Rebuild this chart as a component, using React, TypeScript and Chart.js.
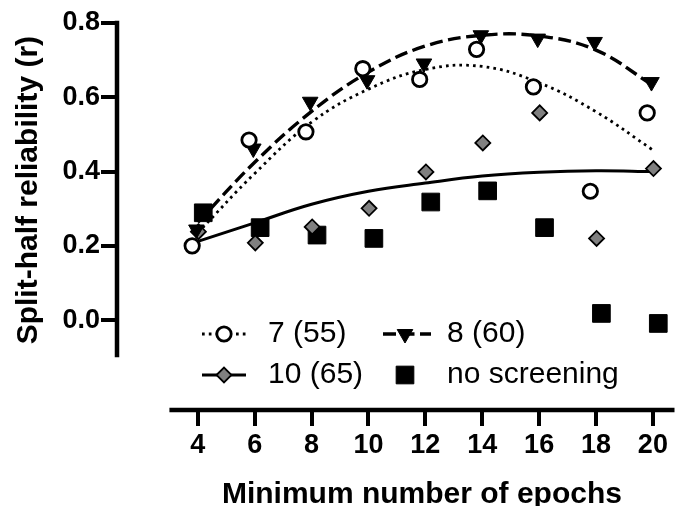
import React, { useEffect, useRef } from "react";
import { Chart, registerables } from "chart.js";
import { drawPoint } from "chart.js/helpers";

Chart.register(...registerables);

// ---------- data ----------
const epochs = [4, 6, 8, 10, 12, 14, 16, 18, 20];

// observed split-half reliability per screening criterion
const r7 = [0.2, 0.485, 0.507, 0.677, 0.648, 0.729, 0.628, 0.347, 0.558];
const r8 = [0.244, 0.462, 0.588, 0.646, 0.691, 0.767, 0.758, 0.749, 0.641];
const r10 = [0.238, 0.208, 0.251, 0.301, 0.399, 0.477, 0.558, 0.22, 0.408];
const rNone = [0.289, 0.249, 0.229, 0.22, 0.318, 0.348, 0.249, 0.018, -0.009];

// horizontal nudge of each marker series (in epochs)
const shift7 = -0.2;
const shift8 = -0.05;
const shift10 = 0.02;
const shiftNone = 0.19;

// fitted curves read at each epoch value
const fit7 = [0.235, 0.395, 0.533, 0.622, 0.675, 0.683, 0.639, 0.561, 0.458];
const fit8 = [0.263, 0.425, 0.562, 0.668, 0.738, 0.767, 0.765, 0.727, 0.632];
const fit10 = [0.212, 0.262, 0.312, 0.347, 0.369, 0.388, 0.398, 0.402, 0.4];

const seriesLabels = ["7 (55)", "8 (60)", "10 (65)", "no screening"];
const xTicks = [4, 6, 8, 10, 12, 14, 16, 18, 20];
const yTicks = [0, 0.2, 0.4, 0.6, 0.8];
const xTitle = "Minimum number of epochs";
const yTitle = "Split-half reliability (r)";

// axis extents
const X_MIN = 1.157;
const X_MAX = 20.76;
const Y_MIN = -0.242;
const Y_MAX = 0.8;
const X_AXIS_FROM = 3;
const Y_AXIS_FROM = -0.1;

const FONT = "'Liberation Sans', Arial, Helvetica, sans-serif";

const pts = (ys: number[], dx: number) =>
  ys.map((y, i) => ({ x: epochs[i] + dx, y }));

const axisPlugin = {
  id: "axisLines",
  beforeDatasetsDraw(chart: any) {
    const { ctx, chartArea, scales } = chart;
    const xs = scales.x;
    const ys = scales.y;
    ctx.save();
    ctx.strokeStyle = "#000";
    ctx.lineWidth = 4.5;
    ctx.lineCap = "butt";
    ctx.beginPath();
    ctx.moveTo(chartArea.left, ys.getPixelForValue(Y_MAX) - 2.2);
    ctx.lineTo(chartArea.left, ys.getPixelForValue(Y_AXIS_FROM));
    ctx.stroke();
    ctx.beginPath();
    ctx.moveTo(xs.getPixelForValue(X_AXIS_FROM), chartArea.bottom);
    ctx.lineTo(chartArea.right, chartArea.bottom);
    ctx.stroke();
    ctx.restore();
  },
};

const titleLegendPlugin = {
  id: "titleLegend",
  afterDraw(chart: any) {
    const { ctx, scales, chartArea } = chart;
    const ys = scales.y;
    const xs = scales.x;
    ctx.save();
    ctx.font = `bold 30px ${FONT}`;
    ctx.fillStyle = "#000";
    ctx.textAlign = "center";
    ctx.textBaseline = "middle";
    // x axis title, centred on the drawn x axis
    const cx = (xs.getPixelForValue(X_AXIS_FROM) + chartArea.right) / 2;
    ctx.fillText(xTitle, cx, 495);
    // y axis title, centred on the drawn y axis
    const cy = ys.getPixelForValue((Y_MAX + Y_AXIS_FROM) / 2);
    ctx.translate(29, cy);
    ctx.rotate(-Math.PI / 2);
    ctx.fillText(yTitle, 0, 0);
    ctx.restore();

    // legend: [marker dataset, curve dataset, column, row]
    const items: [number, number, number, number][] = [
      [0, 4, 0, 0],
      [1, 5, 1, 0],
      [2, 6, 0, 1],
      [3, -1, 1, 1],
    ];
    const colSym = [224, 405];
    const colLine = [
      [202, 246],
      [383, 431],
    ];
    const colText = [268, 447];
    const rowY = [334, 375];
    const dsets = chart.data.datasets;
    items.forEach(([mi, li, c, r]) => {
      const y = rowY[r];
      ctx.save();
      if (li >= 0) {
        const l = dsets[li];
        ctx.strokeStyle = l.borderColor;
        ctx.lineWidth = l.borderWidth;
        ctx.setLineDash(l.borderDash || []);
        ctx.beginPath();
        ctx.moveTo(colLine[c][0], y);
        ctx.lineTo(colLine[c][1], y);
        ctx.stroke();
      }
      const m = dsets[mi];
      ctx.setLineDash([]);
      ctx.fillStyle = m.pointBackgroundColor;
      ctx.strokeStyle = m.pointBorderColor;
      ctx.lineWidth = m.pointBorderWidth;
      drawPoint(
        ctx,
        {
          pointStyle: m.pointStyle,
          radius: m.pointRadius,
          rotation: m.pointRotation || 0,
          borderWidth: m.pointBorderWidth,
        } as any,
        colSym[c],
        y
      );
      ctx.fillStyle = "#000";
      ctx.font = `30px ${FONT}`;
      ctx.textAlign = "left";
      ctx.textBaseline = "middle";
      ctx.fillText(seriesLabels[mi], colText[c], y);
      ctx.restore();
    });
  },
};

export default function App() {
  const ref = useRef<HTMLCanvasElement | null>(null);

  useEffect(() => {
    if (!ref.current) return;
    const tickFont = { family: FONT, size: 27, weight: "bold" as const };
    const chart = new Chart(ref.current, {
      type: "scatter",
      data: {
        datasets: [
          {
            label: seriesLabels[0],
            data: pts(r7, shift7),
            showLine: false,
            pointStyle: "circle",
            pointRadius: 7.2,
            pointBorderWidth: 2.8,
            pointBackgroundColor: "#ffffff",
            pointBorderColor: "#000000",
            order: 1,
          },
          {
            label: seriesLabels[1],
            data: pts(r8, shift8),
            showLine: false,
            pointStyle: "triangle",
            pointRotation: 180,
            pointRadius: 9,
            pointBorderWidth: 1,
            pointBackgroundColor: "#000000",
            pointBorderColor: "#000000",
            order: 2,
          },
          {
            label: seriesLabels[2],
            data: pts(r10, shift10),
            showLine: false,
            pointStyle: "rectRot",
            pointRadius: 7.5,
            pointBorderWidth: 1.8,
            pointBackgroundColor: "#808080",
            pointBorderColor: "#000000",
            order: 3,
          },
          {
            label: seriesLabels[3],
            data: pts(rNone, shiftNone),
            showLine: false,
            pointStyle: "rect",
            pointRadius: 12.5,
            pointBorderWidth: 1,
            pointBackgroundColor: "#000000",
            pointBorderColor: "#000000",
            order: 4,
          },
          {
            label: "fit 7 (55)",
            data: pts(fit7, 0),
            showLine: true,
            pointRadius: 0,
            borderColor: "#000000",
            borderWidth: 2.8,
            borderDash: [2.7, 4.1],
            tension: 0.4,
            fill: false,
            order: 5,
          },
          {
            label: "fit 8 (60)",
            data: pts(fit8, 0),
            showLine: true,
            pointRadius: 0,
            borderColor: "#000000",
            borderWidth: 3.4,
            borderDash: [13, 5.5],
            tension: 0.4,
            fill: false,
            order: 6,
          },
          {
            label: "fit 10 (65)",
            data: pts(fit10, 0),
            showLine: true,
            pointRadius: 0,
            borderColor: "#000000",
            borderWidth: 3,
            tension: 0.4,
            fill: false,
            order: 7,
          },
        ] as any,
      },
      options: {
        responsive: false,
        animation: false,
        events: [],
        devicePixelRatio: 1,
        layout: { padding: { top: 23, left: 0, right: 0, bottom: 0 } },
        plugins: {
          legend: { display: false },
          tooltip: { enabled: false },
        },
        scales: {
          x: {
            type: "linear",
            min: X_MIN,
            max: X_MAX,
            afterBuildTicks: (s: any) => {
              s.ticks = xTicks.map((v) => ({ value: v }));
            },
            afterFit: (s: any) => {
              s.height = 96;
            },
            ticks: {
              font: tickFont,
              color: "#000",
              padding: 3,
              maxRotation: 0,
              autoSkip: false,
              callback: (v: any) => String(v),
            },
            grid: {
              drawOnChartArea: false,
              drawTicks: true,
              tickLength: 16,
              lineWidth: 4,
              color: "#000",
            },
            border: { display: false },
            title: { display: false },
          },
          y: {
            type: "linear",
            min: Y_MIN,
            max: Y_MAX,
            afterBuildTicks: (s: any) => {
              s.ticks = yTicks.map((v) => ({ value: v }));
            },
            afterFit: (s: any) => {
              s.width = 117;
            },
            ticks: {
              font: tickFont,
              color: "#000",
              padding: 1,
              callback: (v: any) => Number(v).toFixed(1),
            },
            grid: {
              drawOnChartArea: false,
              drawTicks: true,
              tickLength: 16,
              lineWidth: 4,
              color: "#000",
            },
            border: { display: false },
            title: { display: false },
          },
        },
      },
      plugins: [axisPlugin, titleLegendPlugin],
    });
    return () => chart.destroy();
  }, []);

  return (
    <div
      style={{
        position: "fixed",
        left: 0,
        top: 0,
        width: 688,
        height: 506,
        background: "#fff",
      }}
    >
      <canvas ref={ref} width={688} height={506} style={{ display: "block" }} />
    </div>
  );
}
